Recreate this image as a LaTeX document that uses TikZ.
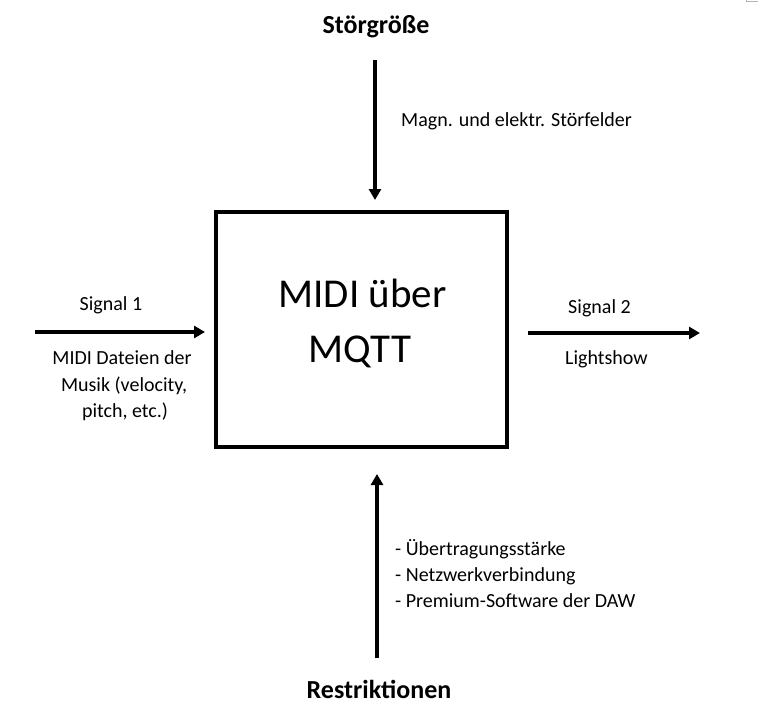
\documentclass[tikz,border=0pt]{standalone}
\usepackage{fontspec}
\setmainfont{Carlito}
\usetikzlibrary{arrows.meta}
\begin{document}
\begin{tikzpicture}[x=1pt,y=-1pt,
  lbl/.style={font=\fontsize{20}{24}\selectfont, inner sep=0pt, anchor=base},
  lbll/.style={lbl, anchor=base west},
  head/.style={font=\fontsize{26}{30}\selectfont\bfseries, inner sep=0pt, anchor=base},
  big/.style={font=\fontsize{41}{48}\selectfont, inner sep=0pt, anchor=base},
  arr/.style={line width=3.2pt, -{Triangle[length=11pt,width=12pt]}},
  boxline/.style={line width=4.5pt}]
\useasboundingbox (0,0) rectangle (758,728);
\fill[white] (0,0) rectangle (758,728);
% corner mark
\draw[gray!60, line width=0.8pt] (746.5,0) -- (746.5,1.6) -- (758,1.6);
% box
\node[boxline, draw, minimum width=291pt, minimum height=235pt, inner sep=0pt] (sys) at (361.5,329.5) {};
\node[big] (t1) at (362.5,307) {MIDI über};
\node[big] (t2) at (360,362) {MQTT};
% top
\node[head] (stoer) at (376,33) {Störgröße};
\coordinate (ts) at (375,60);
\coordinate (te) at (375,200);
\draw[arr] (ts) -- (te);
\node[lbll] (magn) at (401,126) {Magn. und elektr. Störfelder};
% left
\coordinate (ls) at (35,332);
\coordinate (le) at (205,332);
\draw[arr] (ls) -- (le);
\node[lbl] (s1) at (111,310) {Signal 1};
\node[lbl] (m1) at (122,364) {MIDI Dateien der};
\node[lbl] (m2) at (124,391) {Musik (velocity,};
\node[lbl] (m3) at (125,417) {pitch, etc.)};
% right
\coordinate (rs) at (528,333);
\coordinate (re) at (700,333);
\draw[arr] (rs) -- (re);
\node[lbl] (s2) at (599.5,313) {Signal 2};
\node[lbl] (ls2) at (606.5,364) {Lightshow};
% bottom
\coordinate (bs) at (377,658);
\coordinate (be) at (377,474);
\draw[arr] (bs) -- (be);
\node[lbll] (r1) at (395,555) {- Übertragungsstärke};
\node[lbll] (r2) at (395,581) {- Netzwerkverbindung};
\node[lbll] (r3) at (395,607) {- Premium-Software der DAW};
\node[head] (restr) at (379,698) {Restriktionen};
\end{tikzpicture}
\end{document}
